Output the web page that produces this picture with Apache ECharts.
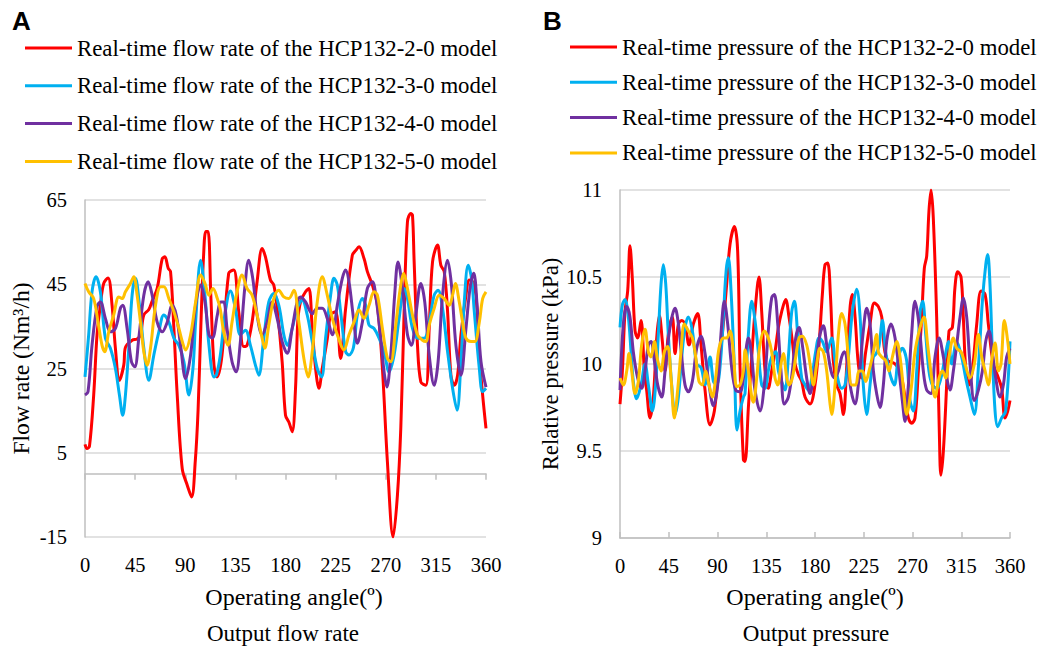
<!DOCTYPE html>
<html>
<head>
<meta charset="utf-8">
<script src="https://cdn.jsdelivr.net/npm/echarts@6/dist/echarts.min.js"></script>
<style>html,body{margin:0;padding:0;background:#fff;}#c{width:1040px;height:646px;}</style>
</head>
<body>
<div id="c"></div>
<script>
// ---- Data: [operating angle (deg), value] ----
const flowNames = [
  'Real-time flow rate of the HCP132-2-0 model',
  'Real-time flow rate of the HCP132-3-0 model',
  'Real-time flow rate of the HCP132-4-0 model',
  'Real-time flow rate of the HCP132-5-0 model'
];
const pressNames = [
  'Real-time pressure of the HCP132-2-0 model',
  'Real-time pressure of the HCP132-3-0 model',
  'Real-time pressure of the HCP132-4-0 model',
  'Real-time pressure of the HCP132-5-0 model'
];
const angleTicks = [0, 45, 90, 135, 180, 225, 270, 315, 360];

const flowRed = [[0,7],[1.8,6],[4,6.5],[7.8,18.7],[10.8,33],[13.8,40],[16.8,45.2],[20.7,46.5],[24.3,40],[27.3,29.8],[30.9,22.2],[34.8,25.8],[36.3,30],[42.3,31.7],[46.8,32],[49.8,33],[52.8,37.7],[57.3,39],[60.3,41],[64.8,44],[69.3,51],[71.7,51.5],[74.7,48.8],[76.8,48],[79.8,34.5],[82.8,18.7],[87.3,1.2],[91.8,-2.7],[95.7,-5.5],[99,3],[101.5,15],[104,35],[106.5,52],[108.5,57.5],[110.5,57.5],[113,42],[115.8,25.8],[118.5,23],[123,28.2],[129,47.6],[133.5,48.4],[138,38.5],[142.5,30.2],[145.5,30.5],[150,36],[154.5,45.6],[159,53.5],[162,51.5],[166.5,46],[169.5,44.8],[172.5,39.3],[177,26.6],[180,13.9],[183,12.3],[186,10],[189,20.3],[191,36],[193.5,40.8],[198,43.2],[201,44],[204,34.5],[207,25],[210,20.3],[213,25],[217.5,32],[220.5,37.7],[225,38.5],[229.5,27.4],[234,39.3],[240,51.9],[243,53],[246,53.9],[250.5,51.1],[253.5,48],[258,44.8],[262.5,40],[267,25],[271.5,2.8],[276.6,-15],[280.5,-5],[283.5,10.8],[286.5,38.5],[289.5,59.9],[292.5,61.8],[294,61.4],[295.5,50.3],[298.5,30.5],[301.5,21.8],[306,21],[309,34.5],[312,50.3],[316.5,54.3],[319.5,49.5],[322.5,48],[325.5,38.5],[328.5,23.4],[331.5,21],[334.5,23.4],[337.5,33],[342,42.4],[345,46],[348,45.6],[351,42.4],[354,28.2],[357,18.7],[360,10.8]];
const flowBlue = [[0,23],[3.3,33],[6.3,43.2],[9.9,46.8],[13.8,43.2],[18.3,32.2],[22.8,29.8],[27.3,25],[30.9,18.7],[33.9,13.9],[36.3,18.7],[39.3,29.8],[42.3,42.4],[45.3,46.4],[48.9,40],[52.8,29.8],[57.3,22.2],[61.8,28.2],[66.3,33.7],[70.8,37.7],[75.3,36],[79.8,32.2],[84.3,30.5],[88.8,26.6],[93.3,18.7],[96.9,25],[99.3,36],[103.8,50.7],[107.7,42.4],[111.3,30.5],[115.8,23],[118,23.5],[121.5,28.2],[126,38.5],[130.5,43.4],[135,39.3],[139.5,33],[144,34.1],[148.5,30.5],[153,25.8],[156,23.4],[160.5,32.2],[165,40.8],[169.5,42.8],[174,40],[178.5,33],[181.5,30.5],[186,34.5],[190.5,39.3],[195,41.2],[199.5,37.7],[204,31.4],[208.5,25],[212.4,23],[216,32.2],[220.5,42.4],[223.5,46.4],[226.5,44.8],[229.5,38.5],[234,29],[237,28.2],[241,30],[244.5,37.7],[249,41.6],[252,40],[255,35.3],[259.5,34.5],[264,32.2],[268.5,29],[273,24.2],[277.5,28.2],[282,36.9],[286.5,44],[289.5,41.6],[294,34.5],[298.5,32.2],[304.5,32.2],[309,36],[313.5,42.4],[317,43.6],[321,39.3],[325.5,29],[330,20.3],[334,15.1],[337.5,26.6],[340.5,40.8],[344,49.5],[347,46.4],[349.5,38.5],[354,25],[357,19.5],[360,20.3]];
const flowPurple = [[0,18.7],[2.7,19.5],[6.3,30.5],[10.8,39.7],[13.8,40.8],[18.3,36.9],[22.8,33.7],[27.3,34.5],[31.8,39.3],[33.9,40],[37.8,34.5],[41.7,26.6],[44.7,25.4],[48.3,32.2],[52.8,42.4],[56.7,45.6],[60.3,42.4],[64.8,36],[69.3,33.7],[73.8,36],[78.3,40],[81.9,37.7],[85.8,30.5],[90.3,22.6],[94.8,28.2],[99.3,40],[103.8,44.8],[107.7,40.8],[111.3,33],[114.3,32.2],[118.8,37.7],[121.8,40.8],[124.5,40.8],[127.5,34.5],[132,26.6],[135.6,24.2],[139.5,31.4],[143.4,44],[147,50.7],[150.6,46.4],[154.5,37.7],[159,33],[163.5,36],[168,40.8],[172.5,36.9],[177,31.4],[181.5,28.6],[186,34.5],[190.5,40.8],[193.5,42],[198,40.8],[204,38],[208.5,39.3],[213,39.3],[217.5,36.9],[222,33],[226.5,40],[231,46.4],[234,48.4],[237,45.6],[241,37],[244.5,31],[249,36],[253.5,44],[258,45.6],[261,42.4],[265.5,32.2],[268.5,24.2],[271,20.6],[274.5,28.2],[278,42.4],[281,50.3],[285,44],[289.5,33],[293,30.5],[297,37.7],[301.5,45.2],[305,40.8],[309,28.2],[313.5,21],[317,26.6],[321,42.4],[325.5,50.7],[329,44.8],[333,30.5],[337.5,23.4],[342,34.5],[346,44.8],[349,47.6],[352,40],[355.5,26.6],[360,20.6]];
const flowYellow = [[0,45.2],[3.3,43.2],[7.8,41.6],[11.7,36],[15.3,30.5],[17.7,29],[21.3,33.7],[25.8,37.7],[30.3,42],[33.3,41.6],[36.3,43.2],[40.8,45.2],[43.8,46.8],[46.8,42.4],[49.8,36],[52.8,29],[55.8,25.8],[58.8,29.8],[63.3,40],[67.8,44.4],[70.8,44.4],[75.3,41.6],[79.8,38.5],[84.3,34.5],[87.3,31.4],[90.3,29.4],[94.8,33],[99.3,40.8],[103.8,47.2],[107.7,45.2],[111.3,42.4],[114.9,44],[118.8,41.6],[121.5,39],[124.5,33.7],[128.4,30.5],[132,36],[136.5,43.2],[141,47.2],[145.5,44],[150,42.4],[154.5,37.7],[159,32.2],[161.4,29.8],[165,35.3],[169.5,41.6],[174,43.6],[178.5,42],[183,41.6],[187.5,43.6],[192,36],[196.5,27.4],[200.4,23],[204,29],[208.5,40.8],[213,46.8],[217.5,42.4],[222,36.9],[226.5,33],[232.5,29.4],[237,33],[241.5,36],[246,38.9],[250.5,36.9],[255,40],[259.5,43.2],[262.5,42.4],[267,34.5],[271.5,27.4],[274.5,26.6],[279,35.3],[283,44],[286,47.6],[289.5,44],[294,37.7],[298.5,33],[303,31.7],[306,31.4],[309,35.3],[313.5,39.3],[318,42.4],[322.5,41.6],[327,40],[330,42.4],[332.5,45.2],[336,40.8],[339,36],[342,32.2],[346.5,31.4],[350,31.4],[354,36],[357,41.6],[360,43.2]];

const pressRed = [[0,9.77],[2.2,9.96],[4.6,10.3],[7.1,10.42],[9.2,10.68],[11.4,10.49],[13.9,10.19],[16.3,10.15],[19.4,10.25],[22.5,9.96],[24.6,9.85],[27.7,9.69],[30.8,9.81],[33.9,10.15],[36.3,10.28],[39.1,10.13],[41.6,9.96],[44.6,10.17],[48.3,10.27],[50.8,10.06],[53.9,10.23],[57,10.25],[60,10.23],[63.7,10.11],[67.7,10.23],[71.7,10.29],[74.8,10.11],[78.5,9.85],[83.1,9.65],[87.1,9.73],[90.8,9.96],[94.5,10.17],[98.5,10.46],[101.6,10.69],[105.6,10.79],[108.6,10.65],[110.8,9.98],[113.9,9.45],[115.4,9.44],[118.5,9.75],[121.6,10.04],[124.6,10.3],[128.3,10.5],[130.8,10.3],[133.9,9.96],[136.9,9.86],[140,9.96],[143.1,10.07],[146.2,10.21],[149.2,10.3],[152.9,10.37],[156,10.27],[159.1,10.13],[161.6,10],[164.6,9.94],[167.7,9.9],[170.8,9.81],[175.4,9.77],[180,9.88],[183.7,10.11],[186.8,10.4],[189.2,10.57],[191.7,10.58],[194.2,10.4],[196.9,10.02],[200,9.88],[203.1,9.83],[206.2,9.71],[209.2,9.98],[212.3,10.32],[214.5,10.4],[217,10.27],[220,10],[223.1,9.92],[226.8,10.07],[230.8,10.23],[234.8,10.35],[238.5,10.33],[241.6,10.27],[244,10.09],[247.1,10.02],[250.8,10.01],[253.9,10],[258.5,9.96],[263.1,9.81],[266.2,9.69],[269.2,9.66],[272.3,9.69],[275.4,9.96],[278.5,10.27],[280.9,10.55],[283.1,10.62],[285.2,10.88],[287.1,11.0],[289.2,10.84],[292.3,10.27],[294.8,9.6],[296.2,9.36],[298.5,9.5],[301.6,9.89],[303.7,10.19],[306.8,10.21],[309.2,10.44],[311.7,10.53],[314.8,10.5],[316.9,10.27],[319.1,9.98],[322.2,9.88],[325.2,9.96],[329.3,10.23],[333.3,10.42],[337,10.4],[340,10.23],[344.6,10],[349.3,9.92],[352.3,9.86],[355.4,9.69],[357.9,9.73],[360,9.79]];
const pressBlue = [[0,10.21],[2.2,10.34],[4.6,10.37],[7.7,10.27],[10.2,10.07],[12.3,9.9],[15.4,9.8],[19.4,9.88],[23.1,10],[26.2,9.88],[29.9,9.73],[32.9,9.88],[35.4,10.17],[37.9,10.46],[40,10.57],[42.2,10.46],[44.6,10.17],[47.7,9.88],[50.8,9.71],[53.9,9.81],[57,10.04],[60,10.21],[63.1,10.27],[66.8,10.19],[70.8,10],[74.8,9.98],[78.5,9.88],[83.1,10.04],[86.2,9.9],[89.2,9.88],[92.3,9.98],[95.4,10.27],[97.9,10.53],[100,10.61],[102.5,10.42],[105.6,9.98],[108,9.62],[110.8,9.73],[113.9,9.81],[115.4,9.83],[118.5,10.17],[121.6,10.36],[124.6,10.25],[127.7,10.07],[130.8,9.88],[133.9,9.86],[136.9,9.96],[140,10.04],[143.7,10.07],[146.2,9.96],[149.2,9.9],[152.3,9.85],[155.4,10.04],[158.5,10.3],[161,10.36],[164,10.17],[167.7,9.92],[170.8,9.88],[173.9,9.85],[177,9.92],[180.6,10.07],[183.7,10.15],[186.8,10.13],[190.8,10.07],[195.4,10.15],[198.5,10.02],[201.6,9.9],[204.6,9.86],[207.7,9.88],[210.8,10.04],[214.5,10.3],[218.5,10.43],[221.6,10.27],[224.6,9.88],[227.7,9.71],[230.8,9.88],[233.9,10.04],[236.5,10.06],[239,10.1],[242.2,10.25],[245.2,10.07],[249.3,9.94],[253.2,9.88],[257,10.04],[260.6,10.09],[264.6,10.02],[267.7,9.79],[270.8,9.73],[273.9,9.96],[277,10.3],[279.4,10.36],[282.2,10.17],[285.2,9.96],[288.3,9.88],[292.3,9.86],[296.3,9.92],[300,10.04],[303.1,10.13],[306.2,10],[310.8,10.13],[315.4,10.04],[319.1,9.92],[323.1,9.81],[327.1,9.71],[330.8,9.98],[334.5,10.36],[337.6,10.57],[339.4,10.63],[341.5,10.46],[343.7,10.07],[346.2,9.73],[348.6,9.64],[352.3,9.69],[356,9.73],[360,10.13]];
const pressPurple = [[0,9.85],[3.1,10.23],[6.2,10.33],[9.2,10.27],[12.3,10.07],[16.3,9.92],[20,9.86],[23.1,9.96],[26.2,10.11],[28.6,10.13],[31.7,10.02],[34.8,9.88],[38.5,9.81],[41.6,9.96],[45.2,10.17],[48.3,10.28],[50.8,10.32],[53.9,10.23],[57,10.04],[60,9.88],[63.1,9.84],[66.8,9.9],[70.8,10.09],[74.8,10.16],[78.5,10.06],[82.2,9.88],[86.2,9.76],[90.2,9.88],[93.2,10.17],[96.3,10.36],[99.4,10.23],[103.1,9.98],[106.8,9.85],[110.8,9.84],[113.9,9.92],[116.9,10.11],[118.5,10.15],[121.6,10.04],[124.6,9.85],[129.2,9.73],[133.2,9.88],[136.9,10.19],[140,10.38],[142.5,10.4],[145.6,10.23],[148.6,9.96],[151.7,9.77],[155.4,9.81],[159.1,9.96],[162.2,10.15],[165.3,10.21],[168.3,10.11],[172.3,9.92],[175.4,9.83],[178.5,9.92],[181.6,10.04],[184.6,10.17],[187.7,10.22],[190.8,10.11],[194.8,9.96],[197.9,9.92],[201.6,9.96],[204.6,10.04],[207.1,10.07],[210.2,10],[213.2,9.85],[216.9,9.77],[220.6,9.92],[224.6,10.19],[227.7,10.32],[230.8,10.23],[233.9,9.96],[236.9,9.83],[240,9.75],[243.1,9.88],[246.2,10.13],[250.2,10.23],[253.9,10.15],[257.6,9.96],[260.6,9.79],[263.1,9.67],[266.2,9.88],[269.2,10.17],[272.3,10.36],[276,10.23],[280,9.96],[283.1,9.85],[287.1,9.83],[290.8,10.04],[294.5,10.15],[298.5,10.04],[301.6,9.92],[304.6,9.85],[307.7,9.96],[310.8,10.11],[313.9,10.27],[317,10.38],[320,10.27],[323.1,10],[327.1,9.79],[330.8,9.85],[334.5,9.96],[337.6,10.13],[340.6,10.19],[343.7,10.07],[346.8,9.92],[350.8,9.81],[353.9,9.88],[356.9,10.04],[360,10.09]];
const pressYellow = [[0,9.92],[3.1,9.88],[6.2,9.96],[8.3,10.06],[10.8,9.96],[13.9,9.83],[16.9,9.9],[20,10.11],[23.1,10.2],[26.2,10.07],[28.6,10.04],[31.7,10.13],[34.8,10.02],[37.9,9.96],[40.9,10.07],[44,10.1],[47.1,9.92],[50.2,9.69],[53.2,9.85],[56.3,10.07],[59.4,10.23],[63.1,10.19],[66.8,10.15],[69.9,10.04],[72.9,9.9],[76,9.88],[79.1,9.96],[82.2,9.88],[85.2,9.81],[88.3,9.92],[91.4,10.09],[95.4,10.15],[98.5,10.15],[101.6,10.19],[104.6,10.07],[107.7,9.87],[110.8,9.88],[113.9,9.96],[115.5,10.08],[118.5,9.96],[121.6,9.81],[123.1,9.78],[126.2,9.92],[129.2,10.11],[133.2,10.19],[136.9,10.15],[140,10.07],[143.1,9.92],[145.6,9.88],[148.6,10],[150.8,10.06],[153.9,9.92],[156,9.88],[159.1,9.92],[162.2,10.04],[165.3,10.15],[168.3,10.16],[172.3,10.11],[175.4,10],[178.5,9.88],[181.6,10],[184.6,10.09],[187.7,10.07],[190.8,9.96],[193.9,9.77],[195.4,9.71],[198.5,9.88],[201.6,10.17],[204.6,10.29],[207.7,10.23],[210.8,10.04],[213.9,9.88],[217.5,9.88],[220.6,9.96],[223.7,9.96],[226.8,9.9],[229.9,9.96],[233.9,10.07],[236.9,10.17],[238.5,10.07],[241.6,10.04],[245.2,10.02],[248.3,9.96],[251.4,10.04],[255.4,10.13],[258.5,10.04],[261.6,9.86],[264.6,9.71],[268.6,9.85],[272.3,10.07],[277,10.21],[280.6,10.27],[284,10.11],[287.7,9.92],[290.8,9.81],[294.5,9.92],[297.6,9.96],[300.6,9.92],[303.7,10.04],[307.7,10.15],[310.8,10.09],[314.8,10.07],[318.5,10],[323.1,9.92],[327.1,10],[330.8,10.17],[333.9,10.04],[337,9.96],[340,9.88],[343.1,10.02],[346.2,10.12],[349.3,9.96],[351.7,10],[354.8,10.25],[357.9,10.13],[360,10]];

const colors = ['#FF0000', '#00B0F0', '#7030A0', '#FFC000'];
const flowData = [flowRed, flowBlue, flowPurple, flowYellow];
const pressData = [pressRed, pressBlue, pressPurple, pressYellow];

const SERIF = 'Liberation Serif, Times New Roman, serif';
const gridLine = '#D9D9D9';
const axisGray = '#BFBFBF';
const lbl = { color: '#000', fontFamily: SERIF, fontSize: 20.5 };

const chart = echarts.init(document.getElementById('c'), null, { renderer: 'svg' });

const series = [];
flowData.forEach((d, i) => series.push({
  name: flowNames[i], type: 'line', xAxisIndex: 0, yAxisIndex: 0, data: d,
  smooth: 0.35, showSymbol: false, symbol: 'none',
  lineStyle: { width: 3, color: colors[i] }, itemStyle: { color: colors[i] }
}));
pressData.forEach((d, i) => series.push({
  name: pressNames[i], type: 'line', xAxisIndex: 2, yAxisIndex: 1, data: d,
  smooth: 0.35, showSymbol: false, symbol: 'none',
  lineStyle: { width: 3, color: colors[i] }, itemStyle: { color: colors[i] }
}));

const legendBase = {
  orient: 'vertical', icon: 'rect', itemWidth: 47, itemHeight: 3, padding: 0,
  textStyle: { color: '#000', fontFamily: SERIF, fontSize: 22.8, lineHeight: 24 }
};

const option = {
  animation: false,
  backgroundColor: '#fff',
  grid: [
    { left: 85, top: 200, width: 401, height: 337 },
    { left: 620, top: 190, width: 390, height: 348 }
  ],
  legend: [
    Object.assign({}, legendBase, { left: 25, top: 36, itemGap: 13.8, data: flowNames }),
    Object.assign({}, legendBase, { left: 570, top: 35, itemGap: 11.3, data: pressNames })
  ],
  xAxis: [
    { gridIndex: 0, type: 'value', min: 0, max: 360, interval: 45, position: 'bottom',
      axisLine: { show: false, onZero: false }, axisTick: { show: false }, splitLine: { show: false },
      axisLabel: Object.assign({ margin: 17, customValues: angleTicks }, lbl) },
    { gridIndex: 0, type: 'value', min: 0, max: 360, interval: 45, position: 'top',
      axisLine: { show: true, onZero: true, lineStyle: { color: axisGray, width: 1.5 } },
      axisTick: { show: true, inside: true, length: 6, lineStyle: { color: axisGray, width: 1.5 } },
      axisLabel: { show: false }, splitLine: { show: false } },
    { gridIndex: 1, type: 'value', min: 0, max: 360, interval: 45, position: 'bottom',
      axisLine: { show: true, onZero: false, lineStyle: { color: axisGray, width: 1.5 } },
      axisTick: { show: true, inside: true, length: 6, lineStyle: { color: axisGray, width: 1.5 } },
      splitLine: { show: false },
      axisLabel: Object.assign({ margin: 17 }, lbl) }
  ],
  yAxis: [
    { gridIndex: 0, type: 'value', min: -15, max: 65, interval: 20,
      axisLine: { show: true, onZero: false, lineStyle: { color: axisGray, width: 1.5 } },
      axisTick: { show: false },
      splitLine: { show: true, lineStyle: { color: gridLine, width: 1.5 } },
      axisLabel: Object.assign({ margin: 18 }, lbl),
      name: 'Flow rate (Nm³/h)', nameLocation: 'middle', nameGap: 52,
      nameTextStyle: { color: '#000', fontFamily: SERIF, fontSize: 23.6 } },
    { gridIndex: 1, type: 'value', min: 9, max: 11, interval: 0.5,
      axisLine: { show: true, onZero: false, lineStyle: { color: axisGray, width: 1.5 } },
      axisTick: { show: false },
      splitLine: { show: true, lineStyle: { color: gridLine, width: 1.5 } },
      axisLabel: Object.assign({ margin: 18 }, lbl),
      name: 'Relative pressure (kPa)', nameLocation: 'middle', nameGap: 55,
      nameTextStyle: { color: '#000', fontFamily: SERIF, fontSize: 22.8 } }
  ],
  graphic: [
    { type: 'text', x: 12, y: 8, style: { text: 'A', fill: '#000', font: 'bold 26px Liberation Sans, Arial, sans-serif' } },
    { type: 'text', x: 543, y: 8, style: { text: 'B', fill: '#000', font: 'bold 26px Liberation Sans, Arial, sans-serif' } },
    { type: 'text', x: 294, y: 597, style: { text: 'Operating angle(º)', fill: '#000', font: '24px ' + SERIF, textAlign: 'center', textVerticalAlign: 'middle' } },
    { type: 'text', x: 283, y: 633, style: { text: 'Output flow rate', fill: '#000', font: '23px ' + SERIF, textAlign: 'center', textVerticalAlign: 'middle' } },
    { type: 'text', x: 815, y: 597, style: { text: 'Operating angle(º)', fill: '#000', font: '24px ' + SERIF, textAlign: 'center', textVerticalAlign: 'middle' } },
    { type: 'text', x: 816, y: 633, style: { text: 'Output pressure', fill: '#000', font: '23px ' + SERIF, textAlign: 'center', textVerticalAlign: 'middle' } }
  ],
  series: series
};
chart.setOption(option);
</script>
</body>
</html>
